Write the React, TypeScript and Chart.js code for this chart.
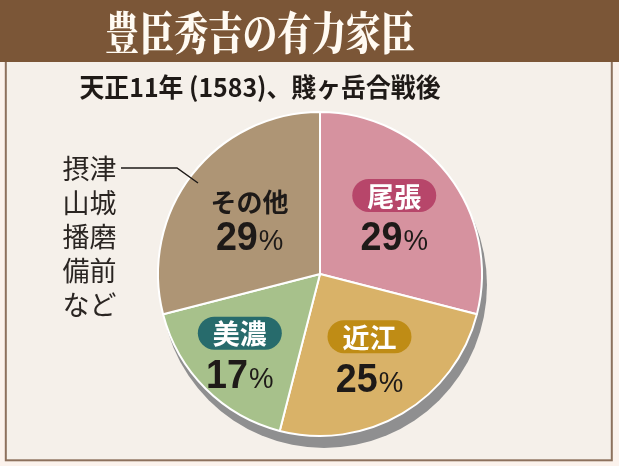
import React, { useEffect, useRef } from "react";
import { Chart, registerables } from "chart.js";

Chart.register(...registerables);

// ---- data ----
const categories = ["尾張", "近江", "美濃", "その他"];
const shares = [29, 25, 17, 29];
const sliceColors = ["#d6929f", "#d9b268", "#a7c18b", "#ae9575"];
const badgeColors = ["#b7466a", "#bf8c15", "#276b6c", ""];
const titleText = "豊臣秀吉の有力家臣";
const subtitleText = "天正11年 (1583)、賤ヶ岳合戦後";
const otherNote = ["摂津", "山城", "播磨", "備前", "など"];
const labelRadius = [0.58, 0.6, 0.7, 0.55];

const W = 619;
const H = 466;
const JP = '"Noto Sans CJK JP", "Noto Sans", sans-serif';
const SERIF = '"Noto Serif CJK JP", "Noto Sans CJK JP", serif';
const NUM = '"Liberation Sans", Arial, sans-serif';

function drawFitted(ctx: CanvasRenderingContext2D, text: string, cx: number, cy: number, width: number, font: string, color: string) {
  ctx.save();
  ctx.font = font;
  const w = ctx.measureText(text).width;
  ctx.translate(cx, cy);
  ctx.scale(width / w, 1);
  ctx.fillStyle = color;
  ctx.textAlign = "center";
  ctx.textBaseline = "middle";
  ctx.fillText(text, 0, 0);
  ctx.restore();
}

function roundRect(ctx: CanvasRenderingContext2D, x: number, y: number, w: number, h: number, r: number) {
  ctx.beginPath();
  ctx.moveTo(x + r, y);
  ctx.lineTo(x + w - r, y);
  ctx.arc(x + w - r, y + r, r, -Math.PI / 2, 0);
  ctx.lineTo(x + w, y + h - r);
  ctx.arc(x + w - r, y + h - r, r, 0, Math.PI / 2);
  ctx.lineTo(x + r, y + h);
  ctx.arc(x + r, y + h - r, r, Math.PI / 2, Math.PI);
  ctx.lineTo(x, y + r);
  ctx.arc(x + r, y + r, r, Math.PI, Math.PI * 1.5);
  ctx.closePath();
}

function drawPercent(ctx: CanvasRenderingContext2D, value: number, cx: number, cy: number) {
  const num = String(value);
  ctx.save();
  ctx.textBaseline = "alphabetic";
  ctx.textAlign = "left";
  const sx = 0.92;
  ctx.translate(cx, cy + 14);
  ctx.scale(sx, 1);
  ctx.font = `bold 41px ${NUM}`;
  const wn = ctx.measureText(num).width;
  ctx.font = `30px ${NUM}`;
  const wp = ctx.measureText("%").width;
  const total = wn + wp + 1;
  const x0 = -total / 2;
  ctx.fillStyle = "#1e1a18";
  ctx.font = `bold 41px ${NUM}`;
  ctx.fillText(num, x0, 0);
  ctx.font = `30px ${NUM}`;
  ctx.fillText("%", x0 + wn + 1, 0);
  ctx.restore();
}

const framePlugin = {
  id: "frame",
  beforeDraw(chart: any) {
    const ctx: CanvasRenderingContext2D = chart.ctx;
    ctx.save();
    ctx.fillStyle = "#fbf2ec";
    ctx.fillRect(0, 0, W, H);
    ctx.fillStyle = "#f5f0ea";
    ctx.fillRect(6, 60, 606, 400);
    ctx.strokeStyle = "#8d715d";
    ctx.lineWidth = 2;
    ctx.strokeRect(5.8, 50, 606, 410.3);
    ctx.fillStyle = "#7b5637";
    ctx.fillRect(0, 0, W, 62);
    drawFitted(ctx, titleText, 260, 33, 310, `900 45px ${SERIF}`, "#fffaf2");
    drawFitted(ctx, subtitleText, 260, 87, 361, `bold 26px ${JP}`, "#1f1a17");
    ctx.restore();
  },
};

const shadowPlugin = {
  id: "pieShadow",
  beforeDatasetsDraw(chart: any) {
    const arc = chart.getDatasetMeta(0).data[0];
    if (!arc) return;
    const ctx: CanvasRenderingContext2D = chart.ctx;
    ctx.save();
    ctx.fillStyle = "#8f8f90";
    ctx.beginPath();
    ctx.arc(arc.x + 4, arc.y + 11, arc.outerRadius + 1, 0, Math.PI * 2);
    ctx.fill();
    ctx.restore();
  },
};

const labelPlugin = {
  id: "sliceLabels",
  afterDatasetsDraw(chart: any) {
    const ctx: CanvasRenderingContext2D = chart.ctx;
    const meta = chart.getDatasetMeta(0);
    meta.data.forEach((arc: any, i: number) => {
      const mid = (arc.startAngle + arc.endAngle) / 2;
      const r = arc.outerRadius * labelRadius[i];
      const cx = arc.x + Math.cos(mid) * r;
      const cy = arc.y + Math.sin(mid) * r;
      ctx.save();
      ctx.textAlign = "center";
      ctx.textBaseline = "middle";
      if (badgeColors[i]) {
        const bw = 84, bh = 33;
        ctx.fillStyle = badgeColors[i];
        roundRect(ctx, cx - bw / 2, cy - 21 - bh / 2, bw, bh, bh / 2);
        ctx.fill();
        ctx.fillStyle = "#ffffff";
        ctx.font = `bold 27px ${JP}`;
        ctx.fillText(categories[i], cx, cy - 20);
        drawPercent(ctx, shares[i], cx, cy + 20);
      } else {
        ctx.fillStyle = "#1e1a18";
        ctx.font = `bold 26px ${JP}`;
        ctx.fillText(categories[i], cx, cy - 17);
        drawPercent(ctx, shares[i], cx, cy + 17);
      }
      ctx.restore();
    });

    // note for "その他"
    ctx.save();
    ctx.fillStyle = "#2a2522";
    ctx.font = `27px ${JP}`;
    ctx.textAlign = "center";
    ctx.textBaseline = "middle";
    otherNote.forEach((t, k) => {
      ctx.fillText(t, 89.5, 169 + k * 34);
    });
    ctx.strokeStyle = "#1e1a18";
    ctx.lineWidth = 1.5;
    ctx.beginPath();
    ctx.moveTo(121, 168);
    ctx.lineTo(177, 168);
    ctx.lineTo(198, 183);
    ctx.stroke();
    ctx.restore();
  },
};

export default function App() {
  const ref = useRef<HTMLCanvasElement | null>(null);
  useEffect(() => {
    if (!ref.current) return;
    const chart = new Chart(ref.current, {
      type: "pie",
      data: {
        labels: categories,
        datasets: [
          {
            data: shares,
            backgroundColor: sliceColors,
            borderColor: "#ffffff",
            borderWidth: 2,
          },
        ],
      },
      options: {
        responsive: false,
        animation: false,
        devicePixelRatio: 1,
        layout: { padding: { left: 157, right: 136, top: 111, bottom: 29 } },
        plugins: {
          legend: { display: false },
          tooltip: { enabled: false },
        },
      },
      plugins: [framePlugin, shadowPlugin, labelPlugin],
    });
    return () => chart.destroy();
  }, []);
  return (
    <div style={{ position: "fixed", left: 0, top: 0, width: W, height: H }}>
      <canvas ref={ref} width={W} height={H} style={{ width: W, height: H, display: "block" }} />
    </div>
  );
}
